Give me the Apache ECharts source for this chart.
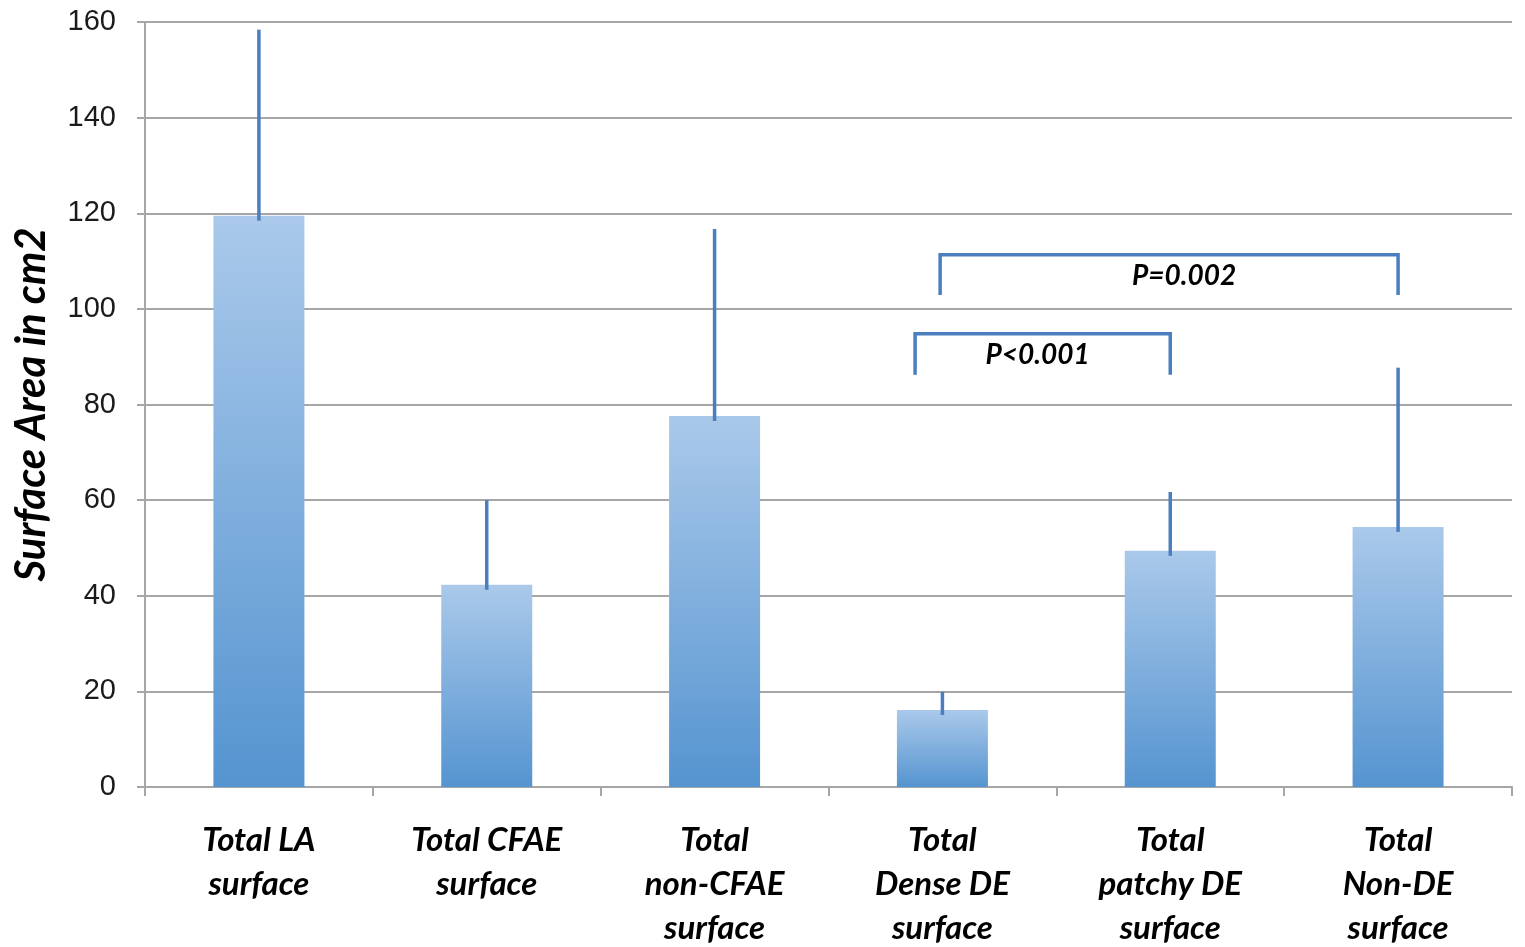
<!DOCTYPE html>
<html><head><meta charset="utf-8">
<script src="https://cdn.jsdelivr.net/npm/echarts@6/dist/echarts.min.js"></script>
<style>html,body{margin:0;padding:0;background:#fff}#c{width:1525px;height:947px}</style>
</head><body><div id="c"></div>
<script>
const categories = ['Total LA\nsurface', 'Total CFAE\nsurface', 'Total\nnon-CFAE\nsurface', 'Total\nDense DE\nsurface', 'Total\npatchy DE\nsurface', 'Total\nNon-DE\nsurface'];
const means = [119.5, 42.3, 77.6, 16.1, 49.4, 54.4];
const errorTops = [158.4, 60.0, 116.7, 19.9, 61.7, 87.7];
const yTicks = { min: 0, max: 160, interval: 20 };
const bracketLabels = ['P=0.002', 'P<0.001'];
const bracketStart = [3, 3];
const bracketEnd = [5, 4];
const bracketTop = [111.3, 94.8];
const bracketBottom = [102.9, 86.2];
// style offsets
const bracketStartShift = [-0.01, -0.12];
const bracketLabelShift = [15, -5];

const blue = '#4a7ebf';
const chart = echarts.init(document.getElementById('c'));
const labelFont = 'Lato, "Open Sans", sans-serif';

chart.setOption({
  animation: false,
  grid: { left: 145, right: 13, top: 22, bottom: 160, containLabel: false, outerBoundsMode: 'none' },
  xAxis: {
    type: 'category', data: categories,
    axisLine: { lineStyle: { color: '#a6a6a6', width: 2 } },
    axisTick: { show: true, length: 9, lineStyle: { color: '#a6a6a6', width: 2 } },
    axisLabel: { interval: 0, margin: 31, color: '#000', fontFamily: labelFont, fontWeight: 'bold', fontStyle: 'italic', fontSize: 33, lineHeight: 44 }
  },
  yAxis: {
    type: 'value', min: yTicks.min, max: yTicks.max, interval: yTicks.interval,
    name: 'Surface Area in cm2', nameLocation: 'middle', nameRotate: 90, nameGap: 93,
    nameTextStyle: { color: '#000', fontFamily: labelFont, fontWeight: 'bold', fontStyle: 'italic', fontSize: 42 },
    axisLine: { show: true, lineStyle: { color: '#a6a6a6', width: 2 } },
    axisTick: { show: true, length: 8, lineStyle: { color: '#a6a6a6', width: 2 } },
    splitLine: { lineStyle: { color: '#a6a6a6', width: 2 } },
    axisLabel: { margin: 29, color: '#1a1a1a', fontFamily: '"Liberation Sans", Arial, sans-serif', fontSize: 29 }
  },
  series: [
    {
      type: 'bar', data: means, barWidth: 91,
      itemStyle: {
        color: new echarts.graphic.LinearGradient(0, 0, 0, 1, [
          { offset: 0, color: '#aac9ea' },
          { offset: 1, color: '#5594d0' }
        ])
      },
      z: 2
    },
    {
      type: 'custom', z: 3,
      data: means.map((m, i) => [i, m, errorTops[i]]),
      renderItem: function (params, api) {
        const p1 = api.coord([api.value(0), api.value(1)]);
        const p2 = api.coord([api.value(0), api.value(2)]);
        return { type: 'line', shape: { x1: p1[0], y1: p1[1] + 5, x2: p2[0], y2: p2[1] }, style: { stroke: blue, lineWidth: 3.5 } };
      }
    },
    {
      type: 'custom', z: 4,
      data: bracketLabels.map((l, i) => [bracketStart[i], bracketEnd[i], bracketTop[i], bracketBottom[i], i]),
      renderItem: function (params, api) {
        const i = api.value(4);
        const band = api.size([1, 0])[0];
        const a = api.coord([api.value(0), api.value(2)]);
        const b = api.coord([api.value(1), api.value(2)]);
        const yb = api.coord([api.value(0), api.value(3)])[1];
        const x1 = a[0] + bracketStartShift[i] * band, x2 = b[0], y = a[1];
        return {
          type: 'group', children: [
            { type: 'polyline', shape: { points: [[x1, yb], [x1, y], [x2, y], [x2, yb]] }, style: { stroke: blue, lineWidth: 3.5, fill: null } },
            { type: 'text', style: { x: (x1 + x2) / 2 + bracketLabelShift[i], y: y + 21, text: bracketLabels[i], align: 'center', verticalAlign: 'middle', fill: '#000', font: 'italic bold 28px ' + labelFont } }
          ]
        };
      }
    }
  ]
});
</script></body></html>
